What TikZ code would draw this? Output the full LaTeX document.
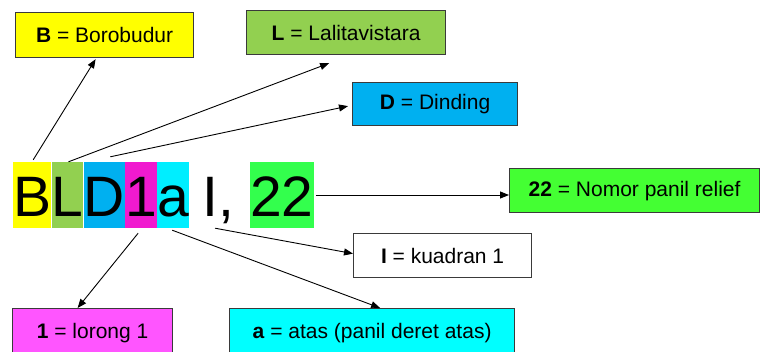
\documentclass[tikz,border=0pt]{standalone}
\usepackage{fontspec}
\setmainfont{Liberation Sans}
\usetikzlibrary{calc,arrows.meta}

\definecolor{cyel}{HTML}{FFFF00}
\definecolor{cgrn}{HTML}{92D050}
\definecolor{cblu}{HTML}{00B0F0}
\definecolor{cmag}{HTML}{F01ACF}
\definecolor{cmagbox}{HTML}{FF55FF}
\definecolor{ccya}{HTML}{00EEFF}
\definecolor{ccyabox}{HTML}{00FFFF}
\definecolor{clime}{HTML}{33FF4D}
\definecolor{clime2}{HTML}{44FF33}
\definecolor{cedge}{HTML}{3A3A3A}

\begin{document}
\begin{tikzpicture}[x=1pt,y=-1pt,
  glyph/.style={inner xsep=0pt,inner ysep=12pt,text height=42pt,text depth=0pt,
                anchor=west,font=\fontsize{57}{60}\selectfont},
  keybox/.style={draw=cedge,line width=1.2pt,inner sep=0pt,anchor=north west,
                 font=\fontsize{21}{25}\selectfont},
  link/.style={line width=0.9pt,-{Triangle[length=9pt,width=7pt]}}]

\clip (0,0) rectangle (762,351);
\fill[white] (0,0) rectangle (762,351);

% the code, letter by letter on coloured blocks
\node[glyph,fill=cyel] (B) at (13,195) {B};
\node[glyph,fill=cgrn] (L) at (B.east) {L};
\node[glyph,fill=cblu] (D) at (L.east) {D};
\node[glyph,fill=cmag] (one) at (D.east) {1};
\node[glyph,fill=ccya] (a) at (one.east) {a};
\node[glyph] (I) at (202,195) {I,};
\node[glyph,fill=clime] (num) at (250,195) {22};

% legend boxes
\node[keybox,fill=cyel,minimum width=178pt,minimum height=45pt] (bB) at (15,12)
  {\textbf{B} = Borobudur};
\node[keybox,fill=cgrn,minimum width=199pt,minimum height=44pt] (bL) at (246,10)
  {\textbf{L} = Lalitavistara};
\node[keybox,fill=cblu,minimum width=165pt,minimum height=43pt] (bD) at (352,82)
  {\textbf{D} = Dinding};
\node[keybox,fill=clime2,minimum width=250pt,minimum height=44pt] (bN) at (509,168)
  {\textbf{22} = Nomor panil relief};
\node[keybox,fill=white,minimum width=178pt,minimum height=44pt] (bI) at (353,233)
  {\textbf{I} = kuadran 1};
\node[keybox,fill=cmagbox,minimum width=160pt,minimum height=52pt] (b1) at (12,308)
  {\raisebox{8pt}{\textbf{1} = lorong 1}};
\node[keybox,fill=ccyabox,minimum width=285pt,minimum height=52pt] (ba) at (229,308)
  {\raisebox{8pt}{\textbf{a} = atas (panil deret atas)}};

% connectors
\draw[link] ($(B.north)+(1,-2)$) -- ($(bB.south)+(-9,1)$);
\draw[link] ($(L.north)+(1,0)$) -- ($(bL.south)+(-17,8)$);
\draw[link] ($(D.north)+(6,-5)$) -- ($(bD.west)+(-4,2)$);
\draw[link] ($(num.east)+(2,0)$) -- (num.east -| bN.west);
\draw[link] ($(I.south)+(-3,0)$) -- ($(bI.west)+(0,-2)$);
\draw[link] ($(a.south)+(-1,2)$) -- ($(ba.north)+(8,0)$);
\draw[link] ($(one.south)+(-3,5)$) -- ($(b1.north)+(-15,0)$);
\end{tikzpicture}
\end{document}
